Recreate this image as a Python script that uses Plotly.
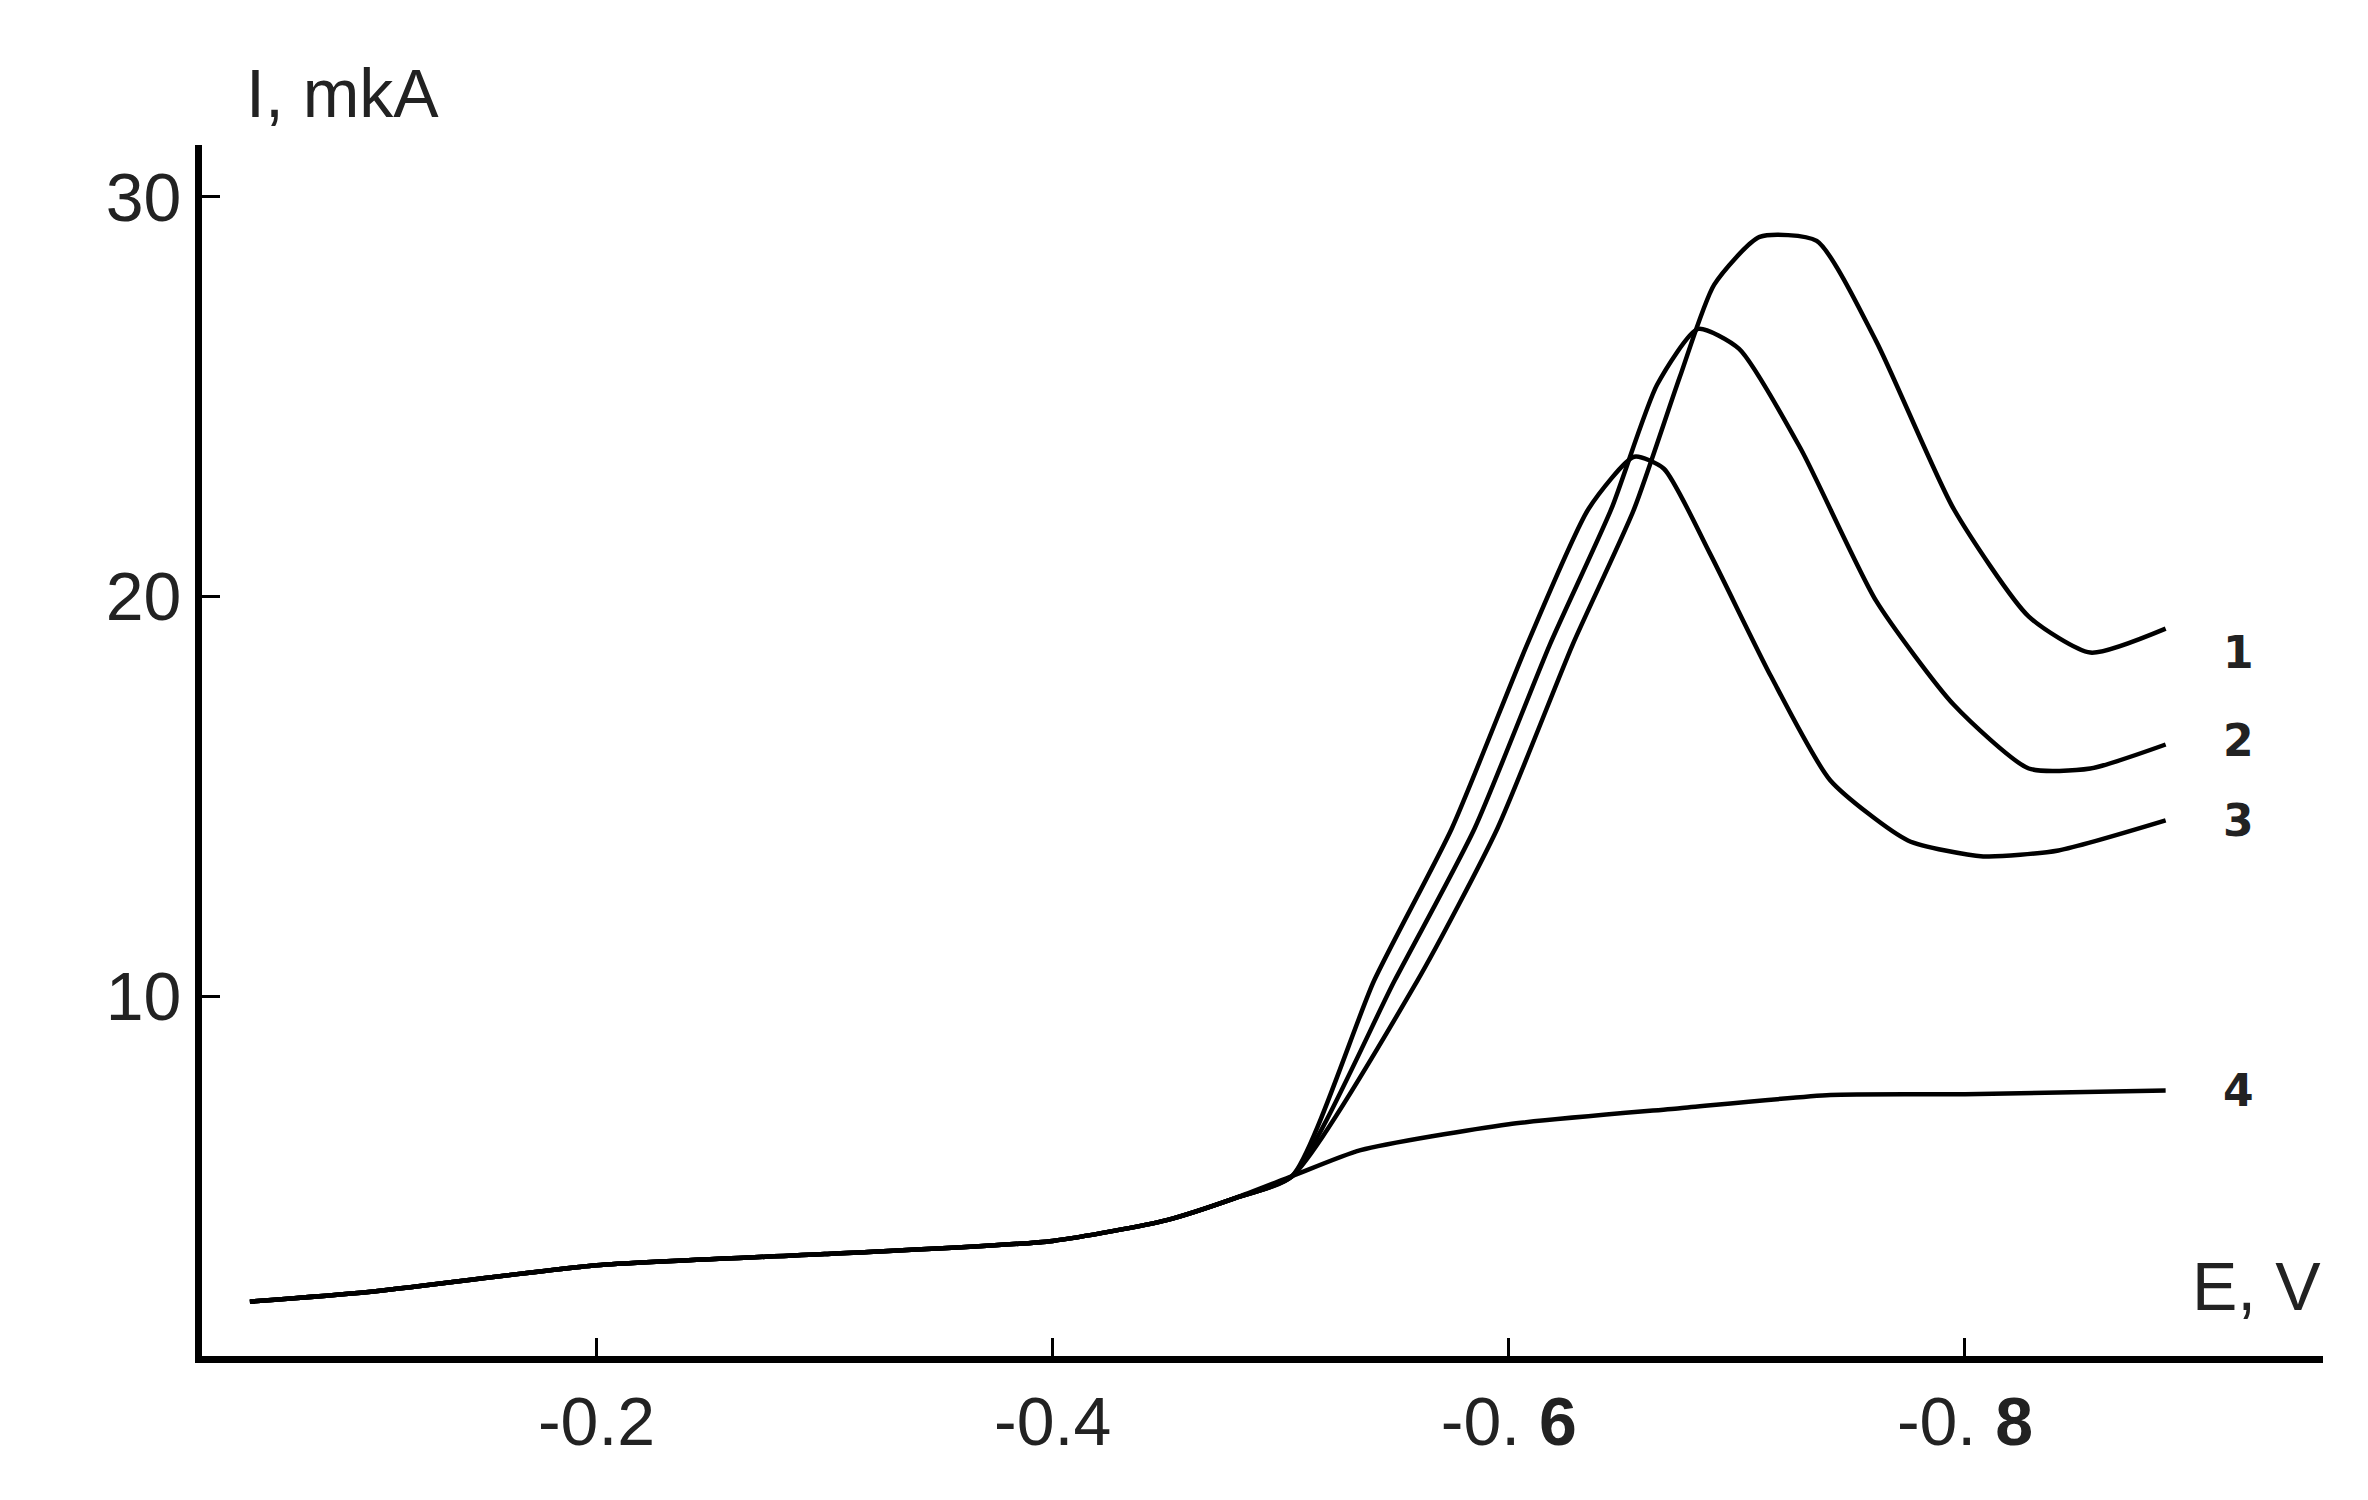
import plotly.graph_objects as go

# potential E (V) and current I (mkA)
base_E = [-0.048, -0.1, -0.2, -0.3, -0.4, -0.45, -0.48, -0.505]
base_I = [2.36, 2.6, 3.27, 3.55, 3.88, 4.4, 4.95, 5.5]

e4 = base_E + [-0.535, -0.6, -0.675, -0.741, -0.8, -0.888]
i4 = base_I + [6.15, 6.8, 7.2, 7.53, 7.55, 7.64]

e3 = base_E + [-0.541, -0.575, -0.608, -0.635, -0.655, -0.668, -0.688, -0.715, -0.741, -0.775, -0.808, -0.841, -0.888]
i3 = base_I + [10.4, 14.2, 18.8, 22.2, 23.5, 23.2, 21.1, 18.0, 15.4, 13.9, 13.5, 13.65, 14.4]

e2 = base_E + [-0.55, -0.585, -0.618, -0.645, -0.665, -0.683, -0.701, -0.728, -0.761, -0.795, -0.828, -0.855, -0.888]
i2 = base_I + [10.4, 14.2, 18.8, 22.2, 25.3, 26.7, 26.2, 23.7, 19.9, 17.3, 15.7, 15.7, 16.3]

e1 = base_E + [-0.56, -0.595, -0.628, -0.655, -0.675, -0.69, -0.71, -0.735, -0.761, -0.795, -0.828, -0.855, -0.888]
i1 = base_I + [10.4, 14.2, 18.8, 22.2, 25.5, 27.8, 29.0, 28.9, 26.4, 22.2, 19.5, 18.6, 19.2]

curve_labels = ["1", "2", "3", "4"]
label_I = [18.6, 16.4, 14.4, 7.64]

x_ticks = [-0.2, -0.4, -0.6, -0.8]
x_ticktext = ["-0.2", "-0.4", "-0. <b>6</b>", "-0. <b>8</b>"]
y_ticks = [10, 20, 30]

fig = go.Figure()
for e, i in [(e1, i1), (e2, i2), (e3, i3), (e4, i4)]:
    fig.add_trace(go.Scatter(x=e, y=i, mode="lines",
                             line=dict(color="black", width=4.5, shape="spline", smoothing=0.6),
                             showlegend=False))

for lab, yv in zip(curve_labels, label_I):
    fig.add_annotation(x=-0.92, y=yv, text="<b>" + lab + "</b>", showarrow=False,
                       font=dict(size=44, color="#222", family="DejaVu Sans"))

fig.add_annotation(xref="paper", yref="paper", x=0.02, y=1.01, xanchor="left", yanchor="bottom",
                   text="I, mkA", showarrow=False, font=dict(size=68, color="#222"))
fig.add_annotation(xref="paper", yref="paper", x=1.0, y=0.025, xanchor="right", yanchor="bottom",
                   text="E, V", showarrow=False, font=dict(size=68, color="#222"))

fig.update_layout(
    width=2368, height=1500,
    margin=dict(l=194, r=53, t=137, b=152),
    plot_bgcolor="white", paper_bgcolor="white",
    font=dict(family="Liberation Sans, Arial", size=68, color="#222"),
)
fig.update_xaxes(range=[-0.027, -0.957], tickvals=x_ticks, ticktext=x_ticktext,
                 showline=True, linecolor="black", linewidth=7, showgrid=False, zeroline=False,
                 ticks="inside", ticklen=18, tickwidth=3, tickcolor="black")
fig.update_yaxes(range=[1, 31.3], tickvals=y_ticks,
                 showline=True, linecolor="black", linewidth=7, showgrid=False, zeroline=False,
                 ticks="inside", ticklen=18, tickwidth=3, tickcolor="black")

fig.write_html("out.html")
